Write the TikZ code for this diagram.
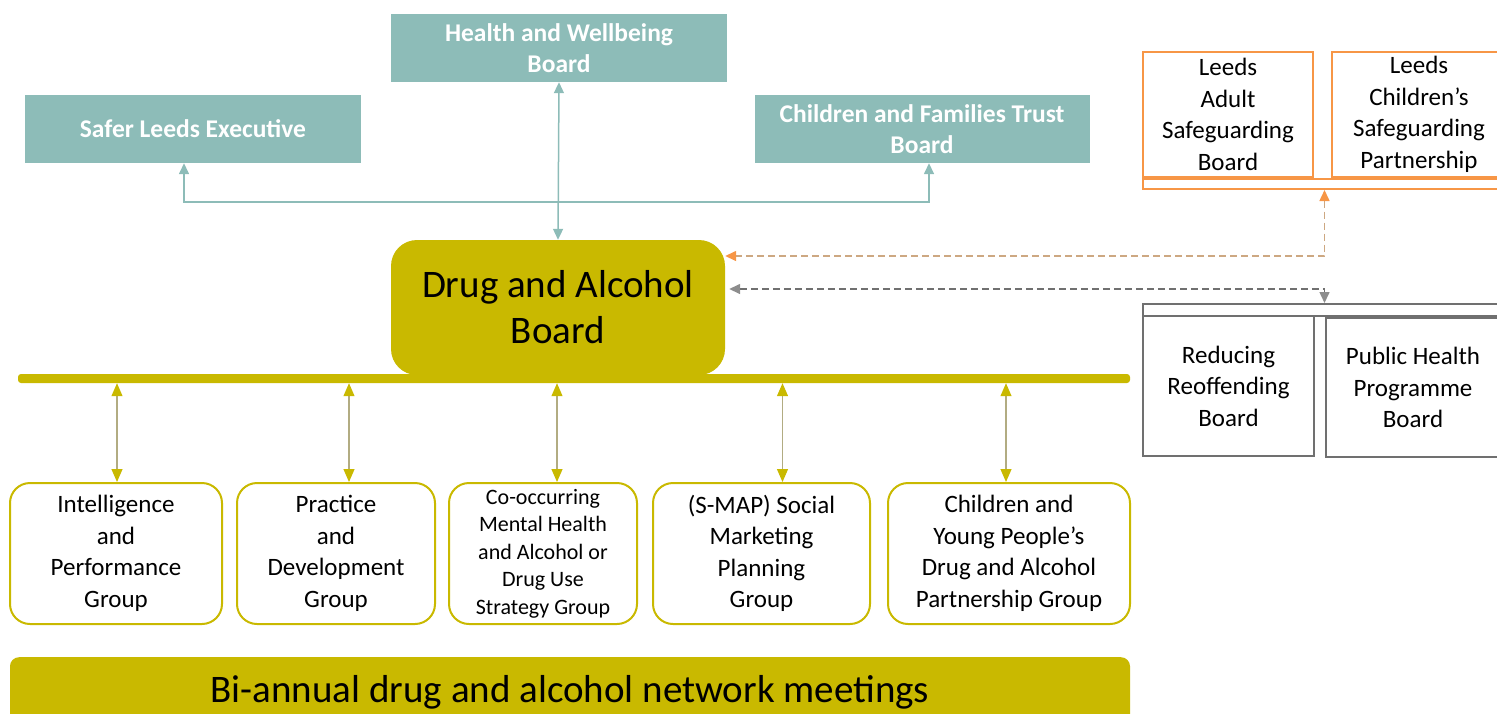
\documentclass[tikz,border=0pt]{standalone}
\usepackage{fontspec}
\setmainfont{Carlito}
\usetikzlibrary{arrows.meta}
\definecolor{boardteal}{RGB}{141,188,184}
\definecolor{dabolive}{RGB}{201,185,0}
\definecolor{sgorange}{RGB}{247,150,70}
\definecolor{sgdash}{RGB}{205,168,130}
\definecolor{rrgray}{RGB}{112,112,112}
\definecolor{linkgray}{RGB}{178,172,130}

\begin{document}
\begin{tikzpicture}[x=1pt,y=-1pt,align=center,inner sep=0pt,
  board/.style={fill=boardteal,text=white,minimum height=68pt,font=\bfseries\fontsize{25.5}{31}\selectfont},
  group/.style={draw=dabolive,line width=2pt,fill=white,rounded corners=20pt,minimum height=141pt,font=\fontsize{25}{31.5}\selectfont},
  sgbox/.style={draw=sgorange,line width=2pt,font=\fontsize{25}{31.5}\selectfont},
  rrbox/.style={draw=rrgray,line width=2pt,font=\fontsize{25}{31.5}\selectfont},
  tealarrow/.style={draw=boardteal,line width=1.5pt,{Triangle[width=10pt,length=11pt]}-{Triangle[width=10pt,length=11pt]}},
  linkarrow/.style={draw=linkgray,line width=1.2pt,{Triangle[width=11pt,length=13pt,color=dabolive]}-{Triangle[width=11pt,length=13pt,color=dabolive]}},
  dasharrow/.style={line width=1.5pt,dash pattern=on 7pt off 4pt,{Triangle[width=10pt,length=11pt,color=#1]}-{Triangle[width=10pt,length=11pt,color=#1]}}]
  \useasboundingbox (0,0) rectangle (1497,713);

  % boards above
  \node[board,minimum width=336pt] (safer) at (193,129) {Safer Leeds Executive};
  \node[board,minimum width=336pt] (hwb) at (559,48) {Health and Wellbeing\\Board};
  \node[board,minimum width=335pt] (cft) at (922,129) {Children and Families Trust\\Board};

  % the board itself
  \node[fill=dabolive,rounded corners=26pt,minimum width=334pt,minimum height=135pt,
    font=\fontsize{39}{46}\selectfont] (dab) at (558,307.5) {Drug and Alcohol\\Board};
  \node[fill=dabolive,rounded corners=3pt,minimum width=1112pt,minimum height=9pt] (bus) at (574,378.5) {};

  \coordinate (tjoin) at (558,202);
  \draw[tealarrow] ([xshift=-9pt]safer.south) |- (tjoin) -| ([xshift=7pt]cft.south);
  \draw[tealarrow] (hwb.south) -- (dab.north);

  % groups
  \node[group,minimum width=212pt] (intel) at (116,553.5) {Intelligence\\and\\Performance\\Group};
  \node[group,minimum width=198pt] (prac) at (336,553.5) {Practice\\and\\Development\\Group};
  \node[group,minimum width=188pt,font=\fontsize{22}{27.5}\selectfont] (comh) at (543,553.5) {Co-occurring\\Mental Health\\and Alcohol or\\Drug Use\\Strategy Group};
  \node[group,minimum width=217pt] (smap) at (761.5,553.5) {(S-MAP) Social\\Marketing\\Planning\\Group};
  \node[group,minimum width=242pt] (cyp) at (1009,553.5) {Children and\\Young People’s\\Drug and Alcohol\\Partnership Group};

  \draw[linkarrow] ([xshift=1pt]intel.north |- bus.south) -- ([xshift=1pt]intel.north);
  \draw[linkarrow] ([xshift=13pt]prac.north |- bus.south) -- ([xshift=13pt]prac.north);
  \draw[linkarrow] ([xshift=14pt]comh.north |- bus.south) -- ([xshift=14pt]comh.north);
  \draw[linkarrow] ([xshift=21pt]smap.north |- bus.south) -- ([xshift=21pt]smap.north);
  \draw[linkarrow] ([xshift=-3pt]cyp.north |- bus.south) -- ([xshift=-3pt]cyp.north);

  % network meetings
  \node[fill=dabolive,rounded corners=9pt,minimum width=1120pt,anchor=north,
    font=\fontsize{39}{44}\selectfont,text height=45pt,text depth=25pt] (net) at (570,657) {Bi-annual drug and alcohol network meetings};

  % safeguarding
  \node[sgbox,minimum width=170pt,minimum height=125pt] (lasb) at (1228,114.5) {Leeds\\Adult\\Safeguarding\\Board};
  \node[sgbox,minimum width=174pt,minimum height=125pt] (lcsp) at (1419,114.5) {Leeds\\Children’s\\Safeguarding\\Partnership};
  \node[sgbox,minimum width=367pt,minimum height=10pt] (sgbar) at (1326.5,184) {};

  % reoffending and public health
  \node[rrbox,minimum width=367pt,minimum height=12pt] (rrbar) at (1326.5,310) {};
  \node[rrbox,minimum width=171pt,minimum height=140pt] (rrb) at (1228.5,386) {Reducing\\Reoffending\\Board};
  \node[rrbox,minimum width=174pt,minimum height=139pt] (phpb) at (1413,387.5) {Public Health\\Programme\\Board};

  \draw[dasharrow=sgorange,draw=sgdash] ([xshift=-2pt]sgbar.south) |- ([yshift=51.5pt]dab.east);
  \draw[dasharrow=rrgray!80,draw=rrgray] ([yshift=18.5pt,xshift=4pt]dab.east) -| ([xshift=-2pt]rrbar.north);
\end{tikzpicture}
\end{document}
